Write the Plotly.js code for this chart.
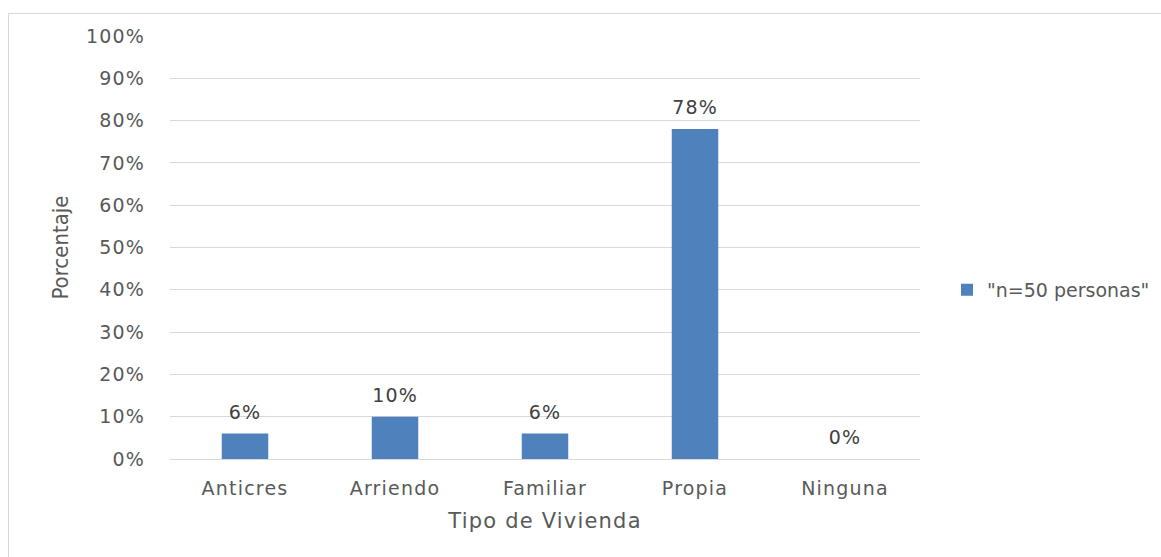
<!DOCTYPE html>
<html><head><meta charset="utf-8">
<script src="https://cdn.plot.ly/plotly-3.0.1.min.js"></script>
<style>
html,body{margin:0;padding:0;background:#fff;}
#frame{position:absolute;left:8px;top:13px;width:1200px;height:600px;border-left:1px solid #d9d9d9;border-top:1px solid #d9d9d9;}
#chart{position:absolute;left:0;top:0;width:1161px;height:557px;}
#chart text{letter-spacing:1.2px;}
#chart text.ytitle, #chart text.legendtext{letter-spacing:0px;}
</style></head>
<body>
<div id="frame"></div>
<div id="chart"></div>
<script>
const categories = ["Anticres", "Arriendo", "Familiar", "Propia", "Ninguna"];
const values = [0.06, 0.10, 0.06, 0.78, 0.00];
const valueLabels = ["6%", "10%", "6%", "78%", "0%"];
const seriesName = '"n=50 personas"';
const tickVals = [0,0.1,0.2,0.3,0.4,0.5,0.6,0.7,0.8,0.9,1.0];

const FONT = 'DejaVu Sans, sans-serif';
const trace = {
  type: 'bar', x: categories, y: values, name: seriesName,
  marker: {color: '#4f81bd'}, width: 0.31, showlegend: true
};
const annotations = categories.map((c, i) => ({
  x: c, y: values[i], xref: 'x', yref: 'y', text: valueLabels[i],
  showarrow: false, yanchor: 'bottom', yshift: 9,
  font: {family: FONT, size: 19, color: '#404040'}
}));
const layout = {
  width: 1161, height: 557,
  paper_bgcolor: 'rgba(0,0,0,0)', plot_bgcolor: 'rgba(0,0,0,0)',
  margin: {l: 170, r: 241, t: 36, b: 98, autoexpand: false},
  font: {family: FONT, color: '#595959'},
  annotations: annotations,
  xaxis: {
    tickfont: {family: FONT, size: 19, color: '#595959'}, showline: false, ticks: '',
    ticklabelstandoff: 16,
    title: {text: 'Tipo de Vivienda', font: {family: FONT, size: 21, color: '#595959'}, standoff: 15}
  },
  yaxis: {
    range: [0, 1], tickvals: tickVals, tickformat: '.0%',
    tickfont: {family: FONT, size: 19, color: '#595959'}, gridcolor: '#d9d9d9', gridwidth: 1,
    zeroline: true, zerolinecolor: '#d9d9d9', showline: false, ticks: '',
    ticklabelstandoff: 24,
    title: {text: 'Porcentaje', font: {family: 'DejaVu Sans Condensed, sans-serif', size: 22, color: '#595959'}, standoff: 15}
  },
  legend: {x: 1.036, xanchor: 'left', y: 0.40, yanchor: 'middle',
    font: {family: FONT, size: 19, color: '#595959'}, itemwidth: 30},
  showlegend: true
};
Plotly.newPlot('chart', [trace], layout, {displayModeBar: false, staticPlot: true});
</script>
</body></html>
